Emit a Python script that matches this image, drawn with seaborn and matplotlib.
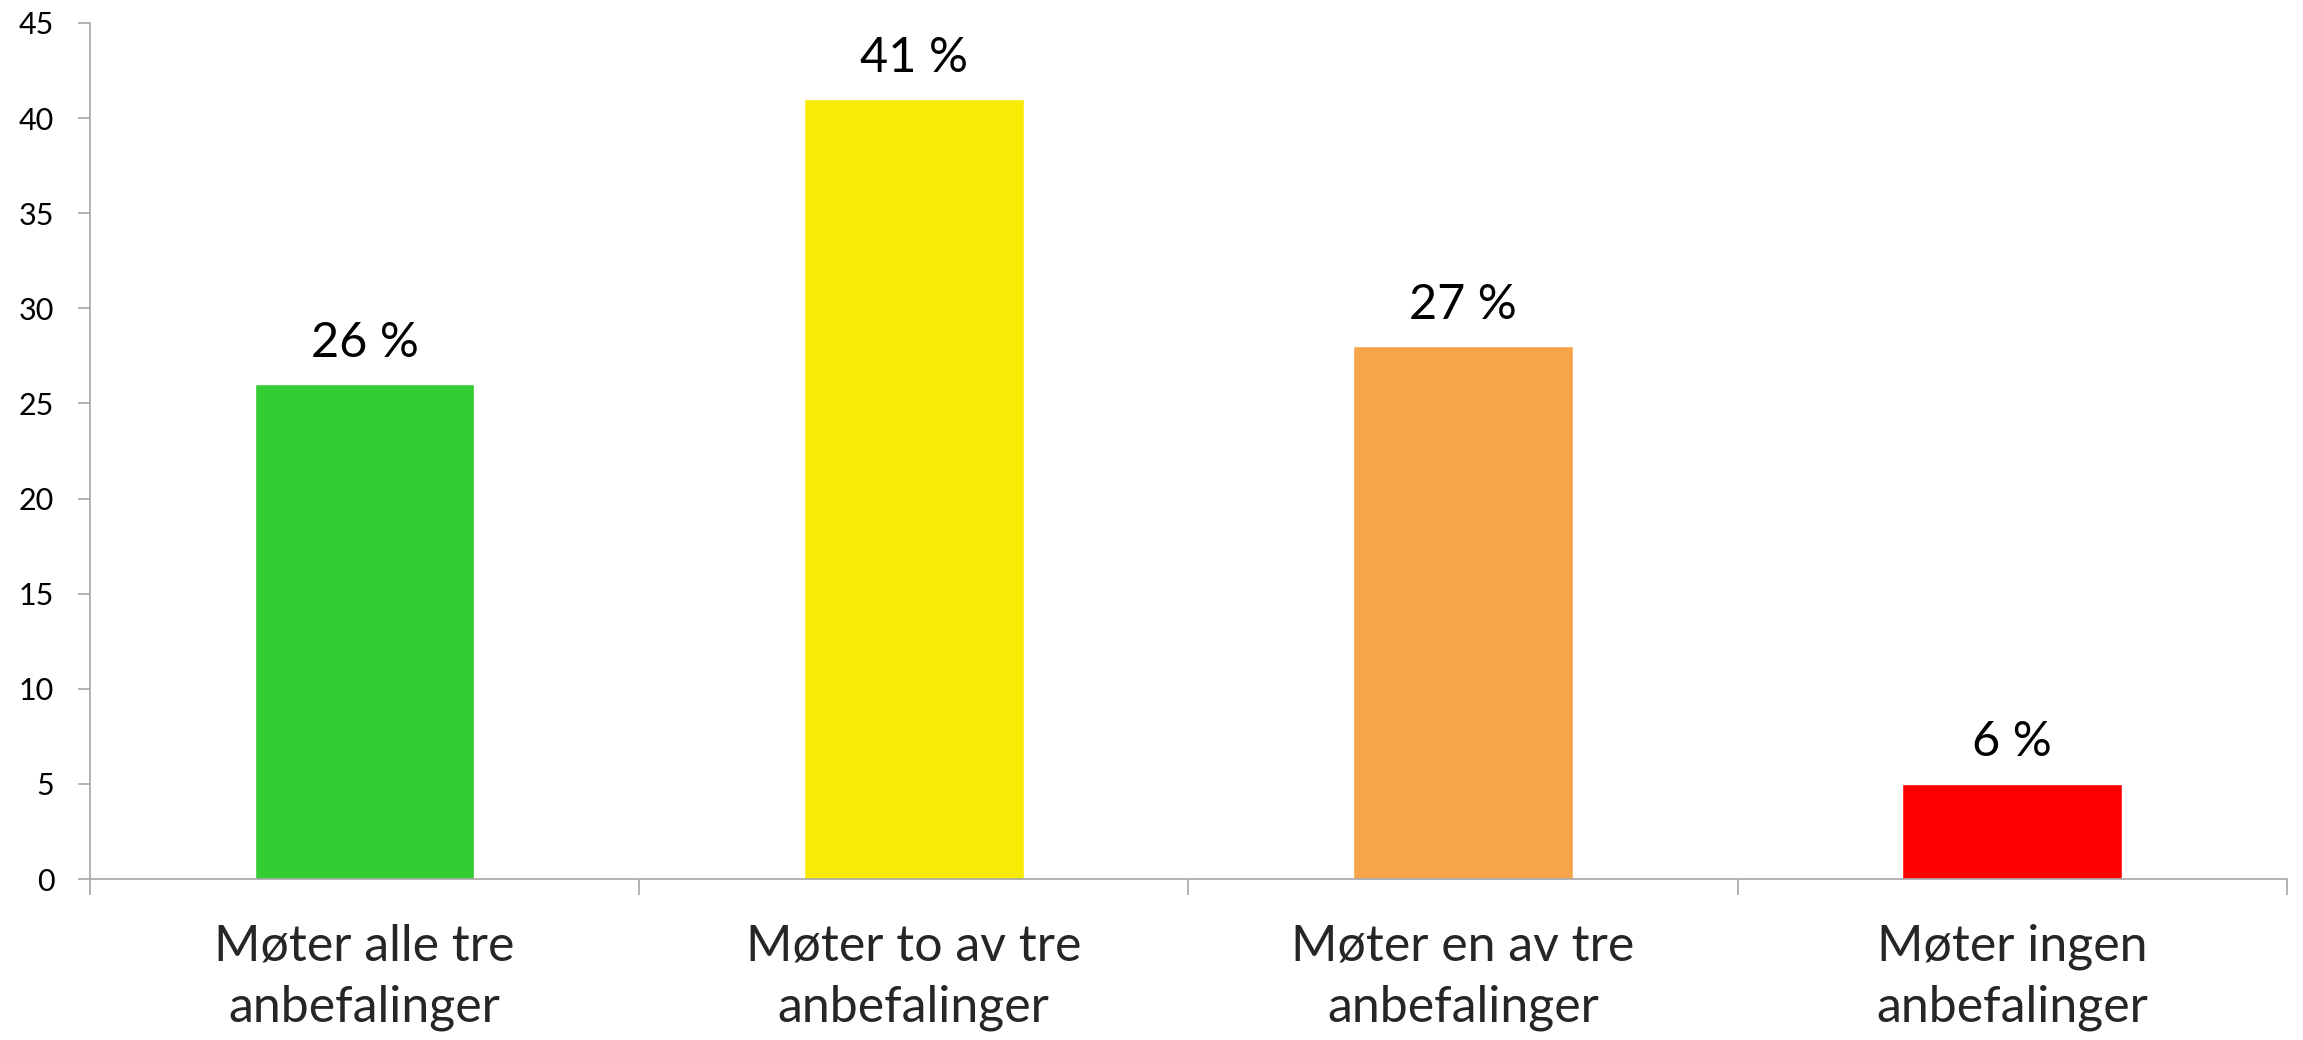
import matplotlib
matplotlib.use("Agg")
import matplotlib.pyplot as plt
import seaborn as sns
import numpy as np

# data
categories = ["Møter alle tre\nanbefalinger", "Møter to av tre\nanbefalinger",
              "Møter en av tre\nanbefalinger", "Møter ingen\nanbefalinger"]
values = [26, 41, 28, 5]
bar_labels = ["26 %", "41 %", "27 %", "6 %"]
bar_colors = ["#33CC33", "#F8EC07", "#F7A54B", "#FF0000"]
y_ticks = [0, 5, 10, 15, 20, 25, 30, 35, 40, 45]

sns.set_style("white")
plt.rcParams['font.family'] = ['Lato', 'DejaVu Sans']

fig = plt.figure(figsize=(23.03, 10.40), dpi=100)
ax = fig.add_axes([0.039, 0.1548, 0.954, 0.8232])

sns.barplot(x=categories, y=values, hue=categories, palette=bar_colors,
            width=0.4, saturation=1, legend=False, ax=ax)

for patch, lab in zip(ax.patches, bar_labels):
    ax.annotate(lab, (patch.get_x() + patch.get_width() / 2, patch.get_height()),
                xytext=(0, 14), textcoords='offset points',
                ha='center', va='bottom', fontsize=35, color='black')

ax.set_xlim(-0.5, 3.5)
ax.set_ylim(0, 45)
ax.set_yticks(y_ticks)
ax.tick_params(axis='y', labelsize=22, length=8.6, width=1.2, color='#A6A6A6',
               pad=17, left=True, labelcolor='black')

# category labels centred, tick marks at category boundaries
ax.set_xticks(range(len(categories)))
ax.set_xticklabels(categories, fontsize=36, linespacing=1.4)
ax.tick_params(axis='x', which='major', length=0, pad=32)
ax.set_xticks(np.arange(-0.5, 4.0, 1.0), minor=True)
ax.tick_params(axis='x', which='minor', length=11.5, width=1.2, color='#A6A6A6',
               bottom=True, direction='out')

sns.despine(ax=ax, top=True, right=True)
for side in ['left', 'bottom']:
    ax.spines[side].set_color('#A6A6A6')
    ax.spines[side].set_linewidth(1.2)
ax.set_xlabel('')
ax.set_ylabel('')

fig.savefig('out.png', dpi=100)
